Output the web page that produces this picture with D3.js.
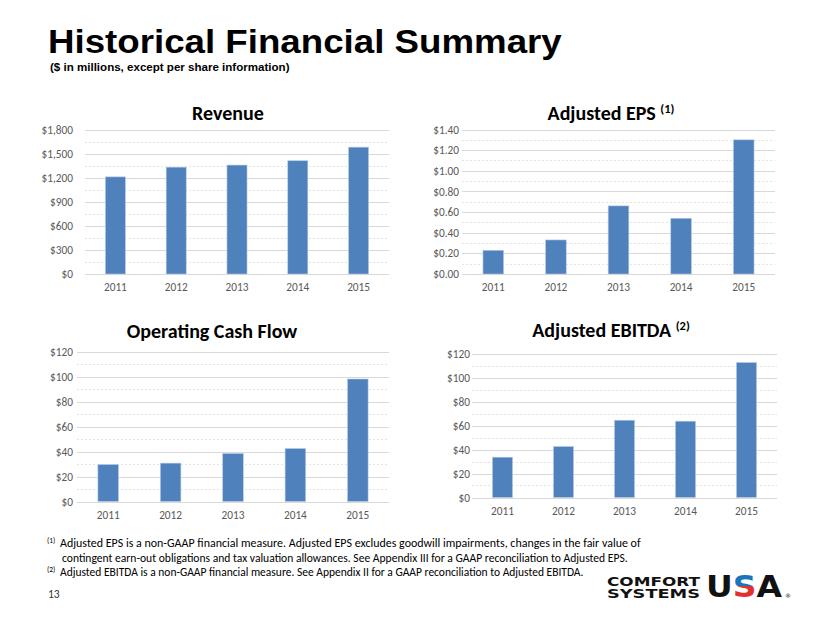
<!DOCTYPE html>
<html><head><meta charset="utf-8">
<script src="https://cdn.jsdelivr.net/npm/d3@7"></script>
<style>
html,body{margin:0;padding:0;background:#fff;}
svg{display:block;}
</style></head>
<body>
<svg id="c" width="830" height="623"></svg>
<script>
const years = ["2011","2012","2013","2014","2015"];
const revenue = [1210, 1331, 1357, 1411, 1580];
const adjEps = [0.23, 0.33, 0.66, 0.54, 1.30];
const opCashFlow = [29.6, 30.7, 38.4, 42.4, 98.0];
const adjEbitda = [33.6, 42.5, 64.4, 63.6, 112.5];
const revenueTicks = [0, 300, 600, 900, 1200, 1500, 1800];
const epsTicks = [0, 0.2, 0.4, 0.6, 0.8, 1.0, 1.2, 1.4];
const cashTicks = [0, 20, 40, 60, 80, 100, 120];
const ebitdaTicks = [0, 20, 40, 60, 80, 100, 120];

const FONT = "Carlito, Calibri, Lato, 'Open Sans', sans-serif";
const svg = d3.select("#c");

// text squeezed horizontally to a target width via a transform (keeps true bbox)
function fitText(parent, x, y, width, str, attrs) {
  const t = parent.append("text").attr("x", 0).attr("y", 0).text(str);
  Object.entries(attrs || {}).forEach(([k, v]) => t.attr(k, v));
  const len = t.node().getComputedTextLength();
  const s = len > 0 ? width / len : 1;
  t.attr("transform", `translate(${x},${y}) scale(${s},1)`);
  return t;
}

fitText(svg, 48, 52.5, 514, "Historical Financial Summary", {
  "font-family": "'Liberation Sans', Arial, sans-serif", "font-weight": "bold", "font-size": 34, "fill": "#000"});
fitText(svg, 50, 71, 240, "($ in millions, except per share information)", {
  "font-family": "'Liberation Sans', Arial, sans-serif", "font-weight": "bold", "font-size": 11.5, "fill": "#000"});

function chart(cfg) {
  const g = svg.append("g");
  const x = d3.scaleBand().domain(years).range([cfg.x0, cfg.x1]).paddingInner(0.67).paddingOuter(0.335);
  const ymax = cfg.ticks[cfg.ticks.length - 1];
  const y = d3.scaleLinear().domain([0, ymax]).range([cfg.y1, cfg.y0]);
  const step = cfg.ticks[1] - cfg.ticks[0];
  const minor = cfg.ticks.slice(1).map(t => t - step / 2);
  g.selectAll("line.minor").data(minor).join("line")
    .attr("x1", cfg.x0).attr("x2", cfg.x1)
    .attr("y1", d => Math.round(y(d)) + 0.5).attr("y2", d => Math.round(y(d)) + 0.5)
    .attr("stroke", "#e4e4e4").attr("stroke-width", 1).attr("stroke-dasharray", "2,2");
  g.selectAll("line.major").data(cfg.ticks).join("line")
    .attr("x1", cfg.x0).attr("x2", cfg.x1)
    .attr("y1", d => Math.round(y(d)) + 0.5).attr("y2", d => Math.round(y(d)) + 0.5)
    .attr("stroke", "#d9d9d9").attr("stroke-width", 1);
  g.selectAll("rect").data(cfg.values).join("rect")
    .attr("x", (d, i) => x(years[i])).attr("width", x.bandwidth())
    .attr("y", d => y(d)).attr("height", d => y(0) - y(d))
    .attr("fill", "#4f81bd").attr("stroke", "#b9cde5").attr("stroke-width", 0.6);
  const ya = d3.axisLeft(y).tickValues(cfg.ticks).tickFormat(cfg.fmt).tickSize(0).tickPadding(0);
  const yg = g.append("g").attr("transform", `translate(${cfg.lx},0)`).call(ya);
  yg.select(".domain").remove();
  yg.selectAll("text").attr("font-family", FONT).attr("font-size", 11.3).attr("fill", "#595959");
  const xa = d3.axisBottom(x).tickSize(0).tickPadding(0);
  const xg = g.append("g").attr("transform", `translate(0,${cfg.xly})`).call(xa);
  xg.select(".domain").remove();
  xg.selectAll("text").attr("font-family", FONT).attr("font-size", 11.3).attr("fill", "#595959")
    .attr("dy", "0.71em");
  const t = g.append("text").attr("x", cfg.tx).attr("y", cfg.ty).attr("text-anchor", "middle")
    .attr("font-family", FONT).attr("font-weight", "bold").attr("font-size", 20).attr("fill", "#000");
  t.append("tspan").text(cfg.title);
  if (cfg.sup) {
    t.append("tspan").text(" ");
    t.append("tspan").attr("font-size", 12.5).attr("dy", -7).text(cfg.sup);
  }
}

chart({title: "Revenue", values: revenue, ticks: revenueTicks,
  fmt: d => "$" + d3.format(",")(d), x0: 85, x1: 389, y0: 129.5, y1: 274, lx: 73, xly: 283, tx: 228, ty: 119.5});
chart({title: "Adjusted EPS", sup: "(1)", values: adjEps, ticks: epsTicks,
  fmt: d => "$" + d3.format(".2f")(d), x0: 462, x1: 775, y0: 129.5, y1: 274, lx: 459, xly: 283, tx: 611, ty: 119.5});
chart({title: "Operating Cash Flow", values: opCashFlow, ticks: cashTicks,
  fmt: d => "$" + d, x0: 77, x1: 389, y0: 351.5, y1: 501.5, lx: 73, xly: 511, tx: 212, ty: 338});
chart({title: "Adjusted EBITDA", sup: "(2)", values: adjEbitda, ticks: ebitdaTicks,
  fmt: d => "$" + d, x0: 472, x1: 777, y0: 353.5, y1: 497.5, lx: 470, xly: 507, tx: 611, ty: 337});

// footnotes
const fn = svg.append("g").attr("font-family", FONT).attr("font-size", 11.8).attr("fill", "#000");
function supNote(xs, y, s) {
  fn.append("text").attr("x", xs).attr("y", y - 4).attr("font-size", 7.5).text(s);
}
supNote(47, 547, "(1)");
fitText(fn, 60, 547, 581, "Adjusted EPS is a non-GAAP financial measure.  Adjusted EPS excludes goodwill impairments, changes in the fair value of");
fitText(fn, 62, 561.5, 566, "contingent earn-out obligations and tax valuation allowances.  See Appendix III for a GAAP reconciliation to Adjusted EPS.");
supNote(47, 576, "(2)");
fitText(fn, 60, 576, 524, "Adjusted EBITDA is a non-GAAP financial measure. See Appendix II for a GAAP reconciliation to Adjusted EBITDA.");
fn.append("text").attr("x", 48).attr("y", 598).attr("font-size", 11.5).attr("fill", "#333").text("13");

// logo
const defs = svg.append("defs");
const grad = defs.append("linearGradient").attr("id", "sgrad").attr("x1", 0).attr("y1", 0).attr("x2", 0).attr("y2", 1);
grad.append("stop").attr("offset", "0%").attr("stop-color", "#1b75bc");
grad.append("stop").attr("offset", "50%").attr("stop-color", "#1b75bc");
grad.append("stop").attr("offset", "50%").attr("stop-color", "#e2312d");
grad.append("stop").attr("offset", "100%").attr("stop-color", "#e2312d");
const lg = svg.append("g").attr("font-family", "'DejaVu Sans', sans-serif").attr("font-weight", "bold").attr("fill", "#111");
const cs = lg.append("text").attr("font-size", 13);
cs.append("tspan").attr("x", 607).attr("y", 586).attr("textLength", 93).attr("lengthAdjust", "spacingAndGlyphs").text("COMFORT");
cs.append("tspan").attr("x", 607).attr("y", 598).attr("textLength", 93).attr("lengthAdjust", "spacingAndGlyphs").text("SYSTEMS");
const usa = lg.append("text").attr("x", 706).attr("y", 597).attr("font-size", 31)
  .attr("textLength", 76).attr("lengthAdjust", "spacingAndGlyphs");
usa.append("tspan").text("U");
usa.append("tspan").attr("fill", "url(#sgrad)").text("S");
usa.append("tspan").text("A");
lg.append("text").attr("x", 785).attr("y", 598).attr("font-size", 6).attr("font-weight", "normal").text("®");
</script>
</body></html>
